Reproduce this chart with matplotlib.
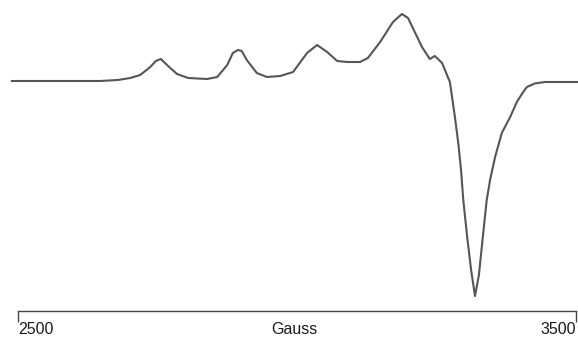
import matplotlib.pyplot as plt

# field (Gauss) and signal (arb. units)
field = [2489, 2575, 2647, 2679, 2701, 2719, 2737, 2747, 2756, 2769, 2785,
         2805, 2839, 2857, 2875, 2885, 2894, 2901, 2910, 2928, 2946, 2970,
         2993, 3018, 3036, 3054, 3072, 3090, 3113, 3127, 3149, 3172, 3188,
         3199, 3211, 3224, 3238, 3247, 3260, 3274, 3283, 3289, 3294, 3298,
         3305, 3312, 3319, 3326, 3333, 3340, 3346, 3355, 3367, 3382, 3394,
         3403, 3412, 3426, 3444, 3471, 3502]
signal = [1, 1, 1, 2, 4, 7, 15, 21, 23, 16, 8,
          4, 3, 5, 17, 29, 32, 31, 22, 9, 5, 6,
          10, 29, 37, 30, 21, 20, 20, 24, 40, 60, 68,
          64, 50, 35, 23, 26, 19, 0, -35, -61, -88, -118,
          -155, -188, -214, -193, -155, -118, -98, -75, -51, -35, -20,
          -12, -5, -1.5, 0, 0, 0]

tick_pos = [2500, 3500]
tick_txt = ["2500", "3500"]
axis_label = "Gauss"

plt.rcParams["font.family"] = ["Liberation Sans", "DejaVu Sans"]

fig = plt.figure(figsize=(5.78, 3.44), dpi=100)
ax = fig.add_axes([18 / 578, 33 / 344, 558 / 578, 311 / 344])

ax.plot(field, signal, color="#555555", lw=1.5, clip_on=False,
        solid_joinstyle="round")

ax.set_xlim(2500, 3500)
ax.set_ylim(-229, 82)

for s in ["top", "right", "left"]:
    ax.spines[s].set_visible(False)
ax.spines["bottom"].set_color("#444444")
ax.spines["bottom"].set_linewidth(1.0)
ax.set_yticks([])
ax.set_xticks(tick_pos)
ax.set_xticklabels([])
ax.tick_params(axis="x", direction="out", length=8, width=1.0, color="#444444")

# labels sit on one line: end values at the ticks, unit in the middle
tr = ax.get_xaxis_transform()
ax.text(tick_pos[0], -0.061, tick_txt[0], transform=tr, ha="left", va="center",
        fontsize=11.5, color="#1a1a1a")
ax.text(tick_pos[1], -0.061, tick_txt[1], transform=tr, ha="right", va="center",
        fontsize=11.5, color="#1a1a1a")
ax.text(2996, -0.061, axis_label, transform=tr, ha="center", va="center",
        fontsize=11.5, color="#1a1a1a")

fig.savefig("out.png", dpi=100)
